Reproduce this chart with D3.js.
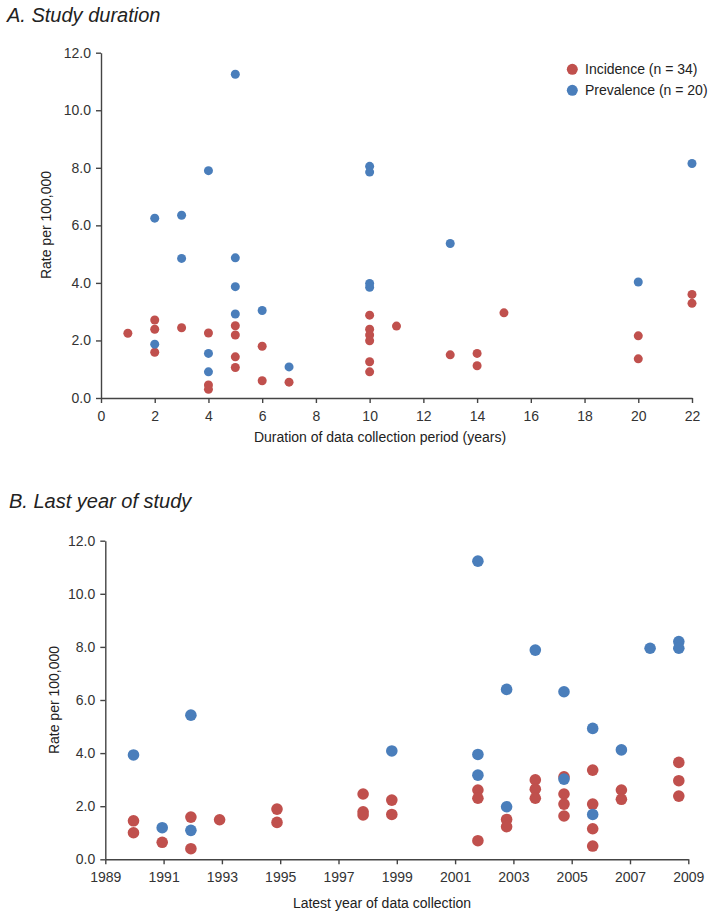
<!DOCTYPE html>
<html>
<head>
<meta charset="utf-8">
<script src="https://cdn.jsdelivr.net/npm/d3@7"></script>
<style>
  html, body { margin: 0; padding: 0; background: #fff; }
  svg { display: block; font-family: "Liberation Sans", Arial, sans-serif; }
</style>
</head>
<body>
<svg id="chart" width="714" height="920"></svg>
<script>
// ---------- Data ----------
// Panel A: duration of data collection (years)
const durIncX  = [1,2,2,2,3,4,4,4,5,5,5,5,6,6,7,10,10,10,10,10,10,11,13,14,14,15,20,20,22,22];
const durIncY  = [2.25,2.71,2.39,1.59,2.44,2.26,0.45,0.30,2.51,2.19,1.43,1.06,1.80,0.60,0.55,2.88,2.39,2.19,1.99,1.26,0.91,2.50,1.50,1.55,1.12,2.96,2.16,1.36,3.60,3.29];
const durPrevX = [2,2,3,3,4,4,4,5,5,5,5,6,7,10,10,10,10,13,20,22];
const durPrevY = [6.25,1.87,6.35,4.85,7.90,1.55,0.91,11.25,4.87,3.87,2.92,3.04,1.08,8.05,7.85,3.98,3.85,5.37,4.03,8.15];

// Panel B: latest year of data collection
const yrIncX  = [1990,1990,1991,1992,1992,1993,1995,1995,1998,1998,1998,1999,1999,2002,2002,2002,2003,2003,2004,2004,2004,2005,2005,2005,2005,2006,2006,2006,2006,2007,2007,2009,2009,2009];
const yrIncY  = [1.45,1.00,0.64,1.59,0.40,1.49,1.89,1.39,2.46,1.79,1.67,2.23,1.69,2.61,2.30,0.70,1.50,1.23,2.99,2.64,2.30,3.11,2.46,2.08,1.63,3.36,2.08,1.15,0.50,2.61,2.26,3.65,2.96,2.38];
const yrPrevX = [1990,1991,1992,1992,1999,2002,2002,2002,2003,2003,2004,2005,2005,2006,2006,2007,2008,2009,2009];
const yrPrevY = [3.93,1.19,5.43,1.09,4.08,11.23,3.95,3.17,6.40,1.98,7.88,6.31,3.02,4.93,1.69,4.12,7.95,8.20,7.95];

const yTicks = [0,2,4,6,8,10,12];
const durTicks = [0,2,4,6,8,10,12,14,16,18,20,22];
const yearTicks = [1989,1991,1993,1995,1997,1999,2001,2003,2005,2007,2009];

const seriesNames = ["Incidence (n = 34)", "Prevalence (n = 20)"];
const colors = ["#c0504d", "#4a7ebb"];

const titles = ["A. Study duration", "B. Last year of study"];
const xTitles = ["Duration of data collection period (years)", "Latest year of data collection"];
const yTitle = "Rate per 100,000";

// ---------- Drawing ----------
const svg = d3.select("#chart");
const axisColor = "#444";
const textColor = "#333";

function styleAxis(g) {
  g.select(".domain").attr("stroke", axisColor).attr("stroke-width", 1.4);
  g.selectAll(".tick line").attr("stroke", axisColor).attr("stroke-width", 1.4);
  g.selectAll(".tick text").attr("fill", textColor).style("font-size", "14px")
    .style("font-family", "'Liberation Sans', Arial, sans-serif");
}

function zip(xs, ys) { return xs.map((x, i) => ({x: x, y: ys[i]})); }

// Panel A
(function() {
  const x = d3.scaleLinear().domain([0, 22]).range([101, 692]);
  const y = d3.scaleLinear().domain([0, 12]).range([398, 52.7]);

  svg.append("text").attr("x", 7).attr("y", 22)
    .style("font-size", "20px").style("font-style", "italic").attr("fill", "#222")
    .text(titles[0]);

  svg.append("g").attr("transform", "translate(0,398)")
    .call(d3.axisBottom(x).tickValues(durTicks).tickFormat(d3.format("d")).tickSize(5).tickSizeOuter(0).tickPadding(8))
    .call(styleAxis);
  svg.append("g").attr("transform", "translate(101,0)")
    .call(d3.axisLeft(y).tickValues(yTicks).tickFormat(d3.format(".1f")).tickSize(5).tickSizeOuter(0).tickPadding(5))
    .call(styleAxis);

  svg.append("text").attr("x", 380).attr("y", 442).attr("text-anchor", "middle")
    .style("font-size", "14px").attr("fill", "#222").text(xTitles[0]);
  svg.append("text").attr("transform", "translate(51,225) rotate(-90)").attr("text-anchor", "middle")
    .style("font-size", "14px").attr("fill", "#222").text(yTitle);

  const sets = [zip(durIncX, durIncY), zip(durPrevX, durPrevY)];
  sets.forEach((pts, i) => {
    svg.append("g").selectAll("circle").data(pts).join("circle")
      .attr("cx", d => x(d.x)).attr("cy", d => y(d.y)).attr("r", 4.5)
      .attr("fill", colors[i]);
  });

  // Legend
  const lg = svg.append("g");
  seriesNames.forEach((name, i) => {
    lg.append("circle").attr("cx", 572.3).attr("cy", 69.3 + i * 21).attr("r", 5.5).attr("fill", colors[i]);
    lg.append("text").attr("x", 585).attr("y", 74.3 + i * 21)
      .style("font-size", "14px").attr("fill", "#222").text(name);
  });
})();

// Panel B
(function() {
  const xAxisScale = d3.scaleLinear().domain([1989, 2009]).range([105.3, 688.3]);
  const xPoint = d3.scaleLinear().domain([1990, 2009]).range([133.5, 678.8]);
  const y = d3.scaleLinear().domain([0, 12]).range([859.3, 540.7]);

  svg.append("text").attr("x", 9).attr("y", 508)
    .style("font-size", "20px").style("font-style", "italic").attr("fill", "#222")
    .text(titles[1]);

  svg.append("g").attr("transform", "translate(0,859.3)")
    .call(d3.axisBottom(xAxisScale).tickValues(yearTicks).tickFormat(d3.format("d")).tickSize(5).tickSizeOuter(0).tickPadding(7.5))
    .call(styleAxis);
  svg.append("g").attr("transform", "translate(105.3,0)")
    .call(d3.axisLeft(y).tickValues(yTicks).tickFormat(d3.format(".1f")).tickSize(5).tickSizeOuter(0).tickPadding(5))
    .call(styleAxis);

  svg.append("text").attr("x", 382).attr("y", 908).attr("text-anchor", "middle")
    .style("font-size", "14px").attr("fill", "#222").text(xTitles[1]);
  svg.append("text").attr("transform", "translate(58.5,700) rotate(-90)").attr("text-anchor", "middle")
    .style("font-size", "14px").attr("fill", "#222").text(yTitle);

  const sets = [zip(yrIncX, yrIncY), zip(yrPrevX, yrPrevY)];
  sets.forEach((pts, i) => {
    svg.append("g").selectAll("circle").data(pts).join("circle")
      .attr("cx", d => xPoint(d.x)).attr("cy", d => y(d.y)).attr("r", 5.8)
      .attr("fill", colors[i]);
  });
})();
</script>
</body>
</html>
